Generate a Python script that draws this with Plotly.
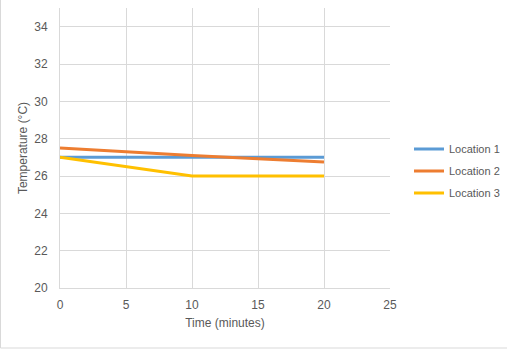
import plotly.graph_objects as go

time_min = [0, 10, 20]
loc1 = [27, 27, 27]
loc2 = [27.5, 27.1, 26.75]
loc3 = [27, 26, 26]
names = ["Location 1", "Location 2", "Location 3"]
colors = ["#5B9BD5", "#ED7D31", "#FFC000"]

FONT = "Liberation Sans"
TXT = "#595959"
GRID = "#D9D9D9"

fig = go.Figure()
for i, (name, ys) in enumerate(zip(names, [loc1, loc2, loc3])):
    fig.add_trace(go.Scatter(
        x=time_min, y=ys, mode="lines", name=name,
        line=dict(color=colors[i], width=3),
        legendgroup=name,
    ))

L, W, T, H = 60, 330, 8, 280
fig.update_layout(
    width=507, height=350,
    margin=dict(l=L, r=507 - L - W, t=T, b=350 - T - H, autoexpand=False),
    paper_bgcolor="white", plot_bgcolor="white",
    font=dict(family=FONT, size=12, color=TXT),
    xaxis=dict(
        range=[0, 25], dtick=5, tick0=0,
        showgrid=True, gridcolor=GRID, gridwidth=1,
        showline=True, linecolor=GRID, linewidth=1,
        zeroline=False, ticks="", ticklabelstandoff=6,
        title=dict(text="Time (minutes)", font=dict(size=12, color=TXT), standoff=7),
        tickfont=dict(size=12, color=TXT),
    ),
    yaxis=dict(
        range=[20, 35], dtick=2, tick0=20,
        showgrid=True, gridcolor=GRID, gridwidth=1,
        showline=True, linecolor=GRID, linewidth=1,
        zeroline=False, ticks="", ticklabelstandoff=9,
        title=dict(text="Temperature (°C)", font=dict(size=12, color=TXT), standoff=4),
        tickfont=dict(size=12, color=TXT),
    ),
    legend=dict(
        xref="container", yref="container",
        x=409 / 507, xanchor="left",
        y=1 - 171 / 350, yanchor="middle",
        traceorder="grouped", tracegroupgap=3,
        font=dict(size=11, color=TXT),
        itemwidth=30,
        bgcolor="rgba(0,0,0,0)",
    ),
    showlegend=True,
)

# outer chart-area border (left and bottom edges visible)
x0p = (0.5 - L) / W
x1p = (507 - L) / W
ytop = (288 - 0) / H
ybot = (288 - 348) / H
fig.add_shape(type="line", xref="paper", yref="paper", x0=x0p, x1=x0p, y0=ybot, y1=ytop,
              line=dict(color=GRID, width=1))
fig.add_shape(type="line", xref="paper", yref="paper", x0=x0p, x1=x1p, y0=ybot, y1=ybot,
              line=dict(color=GRID, width=1))

fig.write_html("out.html")
